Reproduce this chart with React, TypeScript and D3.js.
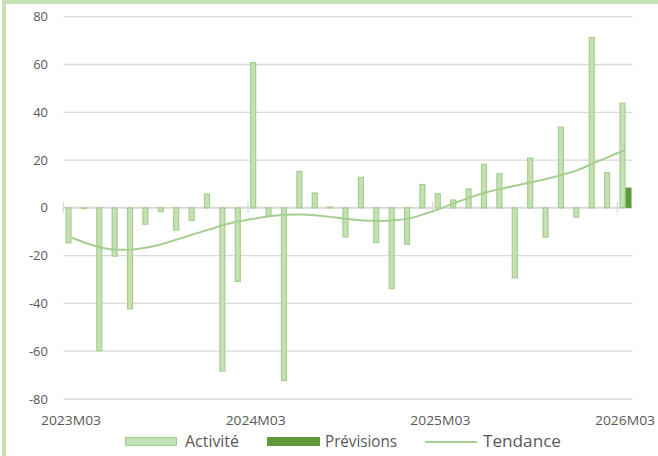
import React from "react";
import * as d3 from "d3";

const categories = [
  "2023M03","2023M04","2023M05","2023M06","2023M07","2023M08","2023M09","2023M10","2023M11","2023M12",
  "2024M01","2024M02","2024M03","2024M04","2024M05","2024M06","2024M07","2024M08","2024M09","2024M10",
  "2024M11","2024M12","2025M01","2025M02","2025M03","2025M04","2025M05","2025M06","2025M07","2025M08",
  "2025M09","2025M10","2025M11","2025M12","2026M01","2026M02","2026M03",
];

const activite = [
  -14.8, -0.5, -60, -20.4, -42.5, -7.1, -1.8, -9.5, -5.5, 6,
  -68.5, -31, 61, -3.9, -72.5, 15.5, 6.4, 0.5, -12.4, 13,
  -14.7, -34, -15.4, 10, 6.1, 3.5, 8.1, 18.4, 14.5, -29.5,
  21, -12.5, 34, -4.1, 71.5, 15, 44,
];

const previsions: (number | null)[] = [
  null, null, null, null, null, null, null, null, null, null,
  null, null, null, null, null, null, null, null, null, null,
  null, null, null, null, null, null, null, null, null, null,
  null, null, null, null, null, null, 8.5,
];

const tendance = [
  -12.3, -14.8, -16.7, -17.5, -17.4, -16.5, -15, -13, -11, -9,
  -7, -5.5, -4.4, -3.4, -2.9, -2.8, -3.2, -3.9, -4.7, -5.3,
  -5.5, -5.2, -4.4, -2.5, -0.3, 2.2, 4.5, 6.5, 8, 9.5,
  10.8, 12.3, 14, 16, 18.8, 21.5, 24.2,
];

const yTicks = [-80, -60, -40, -20, 0, 20, 40, 60, 80];
const xLabels = ["2023M03", "2024M03", "2025M03", "2026M03"];
const seriesNames = ["Activité", "Prévisions", "Tendance"];

const W = 658;
const H = 456;
const FONT = "'Open Sans', Lato, sans-serif";
const LIGHT = "#C5E0B4";
const EDGE = "#A6CE8E";
const DARK = "#5E9A3B";
const GRID = "#D9D9D9";
const TEXT = "#595959";

export default function App() {
  const x = d3.scaleBand<string>().domain(categories).range([63.3, 632.7]).padding(0);
  const y = d3.scaleLinear().domain([-80, 80]).range([399, 16.7]);
  const x1 = d3.scaleBand<string>().domain(["a", "p"]).range([-5.5, 6.5]).padding(0);
  const bw = x1.bandwidth();
  const cx = (c: string) => (x(c) as number) + x.bandwidth() / 2;

  const line = d3
    .line<number>()
    .x((_, i) => cx(categories[i]))
    .y((d) => y(d))
    .curve(d3.curveMonotoneX);

  const barRect = (v: number, c: string, key: string) => {
    const x0 = cx(c) + (x1(key) as number);
    const y0 = y(Math.max(0, v));
    const h = Math.abs(y(v) - y(0));
    return { x: x0, y: y0, w: bw, h };
  };

  return (
    <svg width={W} height={H} style={{ position: "absolute", left: 0, top: 0, background: "#fff" }}>
      <rect x={0} y={0} width={W} height={H} fill="#fff" />
      {/* border */}
      <rect x={2} y={0} width={W - 2} height={4} fill={LIGHT} />
      <rect x={2} y={0} width={4} height={H} fill={LIGHT} />

      {/* gridlines */}
      {yTicks.map((t) => (
        <line key={t} x1={63.3} x2={632.7} y1={y(t)} y2={y(t)} stroke={GRID} strokeWidth={t === 0 ? 2 : 1.3} />
      ))}
      {yTicks.map((t) => (
        <text key={"l" + t} x={48} y={y(t)} dy="0.35em" textAnchor="end" fontFamily={FONT} fontSize={13} fill={TEXT}>
          {t}
        </text>
      ))}

      {/* bars activite */}
      {activite.map((v, i) => {
        const r = barRect(v, categories[i], "a");
        return (
          <rect key={"a" + i} x={r.x + 0.5} y={r.y + (v >= 0 ? 0.5 : 0)} width={r.w - 1} height={Math.max(r.h - 0.5, 0.5)}
            fill={LIGHT} stroke={EDGE} strokeWidth={1.2} />
        );
      })}
      {previsions.map((v, i) => {
        if (v == null) return null;
        const r = barRect(v, categories[i], "p");
        return <rect key={"p" + i} x={r.x} y={r.y} width={r.w} height={r.h} fill={DARK} />;
      })}

      {/* category ticks */}
      {xLabels.map((c) => (
        <line key={"t" + c} x1={x(c) as number} x2={x(c) as number} y1={y(0) - 6} y2={y(0) + 5} stroke={GRID} strokeWidth={1.3} />
      ))}

      {/* trend */}
      <path d={line(tendance) || ""} fill="none" stroke={EDGE} strokeWidth={2} />

      {/* x labels */}
      {xLabels.map((c) => (
        <text key={"x" + c} x={cx(c)} y={420} dy="0.35em" textAnchor="middle" fontFamily={FONT} fontSize={13} fill={TEXT}
          textLength={60} lengthAdjust="spacingAndGlyphs">
          {c}
        </text>
      ))}

      {/* legend */}
      <g fontFamily={FONT} fontSize={16} fill={TEXT}>
        <rect x={125.5} y={437.5} width={51} height={8} fill={LIGHT} stroke={EDGE} strokeWidth={1.2} />
        <text x={185} y={447} textLength={54} lengthAdjust="spacingAndGlyphs">{seriesNames[0]}</text>
        <rect x={267} y={437} width={53} height={9} fill={DARK} />
        <text x={325} y={447} textLength={72} lengthAdjust="spacingAndGlyphs">{seriesNames[1]}</text>
        <line x1={425} x2={477} y1={442} y2={442} stroke={EDGE} strokeWidth={2} />
        <text x={483} y={447} textLength={78} lengthAdjust="spacingAndGlyphs">{seriesNames[2]}</text>
      </g>
    </svg>
  );
}
